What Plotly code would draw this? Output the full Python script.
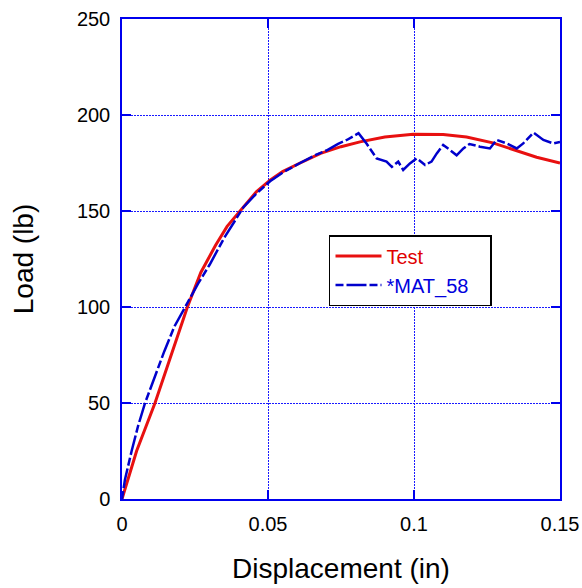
import plotly.graph_objects as go

test_disp = [0, 0.005, 0.0113, 0.0168, 0.0224, 0.027, 0.032, 0.036, 0.0416, 0.046, 0.0507,
             0.055, 0.061, 0.068, 0.075, 0.0815, 0.09, 0.0997, 0.11, 0.118, 0.127, 0.135,
             0.142, 0.15]
test_load = [0, 25, 50, 75, 100, 118, 132, 142, 152, 160, 166, 170.5, 175, 180, 183.5, 186,
             188.5, 190, 189.8, 188.5, 185.5, 181.5, 178, 175]

mat_disp = [0, 0.001, 0.0033, 0.0055, 0.0079, 0.011, 0.0145, 0.018, 0.0216, 0.026, 0.03,
            0.035, 0.0416, 0.046, 0.0507, 0.055, 0.061, 0.066, 0.07, 0.074, 0.077, 0.0795,
            0.081, 0.0838, 0.0872, 0.0906, 0.0924, 0.0946, 0.0963, 0.0986, 0.1009, 0.1038,
            0.106, 0.1078, 0.11, 0.1123, 0.1146, 0.1169, 0.119, 0.1226, 0.126, 0.1283,
            0.1318, 0.1352, 0.1374, 0.1409, 0.1443, 0.1477, 0.15]
mat_load = [0, 10, 25, 38, 50, 63, 77, 90, 100, 112, 122, 136, 152, 159, 165.5, 170, 175,
            179, 181.5, 185, 187, 189, 190.5, 185, 177.4, 175.7, 173, 175.7, 171.4, 174.8,
            177.4, 174, 175.7, 180, 184.4, 181.8, 179, 182.6, 184.9, 183.5, 182.6, 187,
            185.2, 182.6, 185.2, 190.8, 187, 185.2, 186]

x_ticks = [0, 0.05, 0.1, 0.15]
x_labels = ["0", "0.05", "0.1", "0.15"]
y_ticks = [0, 50, 100, 150, 200, 250]

FONT = "Arial, Liberation Sans, sans-serif"
BLUE = "#0000ee"
GRID = "#1a1aff"

fig = go.Figure()
fig.add_trace(go.Scatter(x=test_disp, y=test_load, mode="lines",
                         name="<span style='color:#e00000'>Test</span>",
                         line=dict(color="#e81010", width=3)))
fig.add_trace(go.Scatter(x=mat_disp, y=mat_load, mode="lines",
                         name="<span style='color:#0000dd'>*MAT_58</span>&nbsp;&nbsp;&nbsp;",
                         line=dict(color="#0000cc", width=2.5, dash="8px,3px,20px,3px")))

axis_common = dict(showline=True, linecolor=BLUE, linewidth=1.5, mirror="ticks",
                   ticks="inside", ticklen=9, tickcolor=BLUE, tickwidth=1.5,
                   showgrid=True, gridcolor=GRID, griddash="2px,1px", gridwidth=1,
                   zeroline=False, ticklabeloverflow="allow")

fig.update_xaxes(range=[0, 0.15], tickvals=x_ticks, ticktext=x_labels,
                 tickfont=dict(family=FONT, size=20, color="black"),
                 title=dict(text="Displacement (in)", font=dict(family=FONT, size=28, color="black"),
                            standoff=25),
                 ticklabelstandoff=6, **axis_common)
fig.update_yaxes(range=[0, 250], tickvals=y_ticks,
                 tickfont=dict(family=FONT, size=20, color="black"),
                 title=dict(text="Load (lb)", font=dict(family=FONT, size=28, color="black"),
                            standoff=35),
                 ticklabelstandoff=6, **axis_common)

fig.update_layout(
    width=582, height=588,
    margin=dict(l=122, r=22, t=19, b=89, autoexpand=False),
    plot_bgcolor="white", paper_bgcolor="white",
    font=dict(family=FONT),
    legend=dict(x=0.4726, y=0.55, xanchor="left", yanchor="top",
                bordercolor="black", borderwidth=1.5, bgcolor="white",
                font=dict(family=FONT, size=20), itemwidth=46,
                tracegroupgap=0),
    showlegend=True,
)

fig.write_html("out.html", config={"displayModeBar": False},
               post_script="document.body.style.margin='0';document.body.style.overflow='hidden';")
